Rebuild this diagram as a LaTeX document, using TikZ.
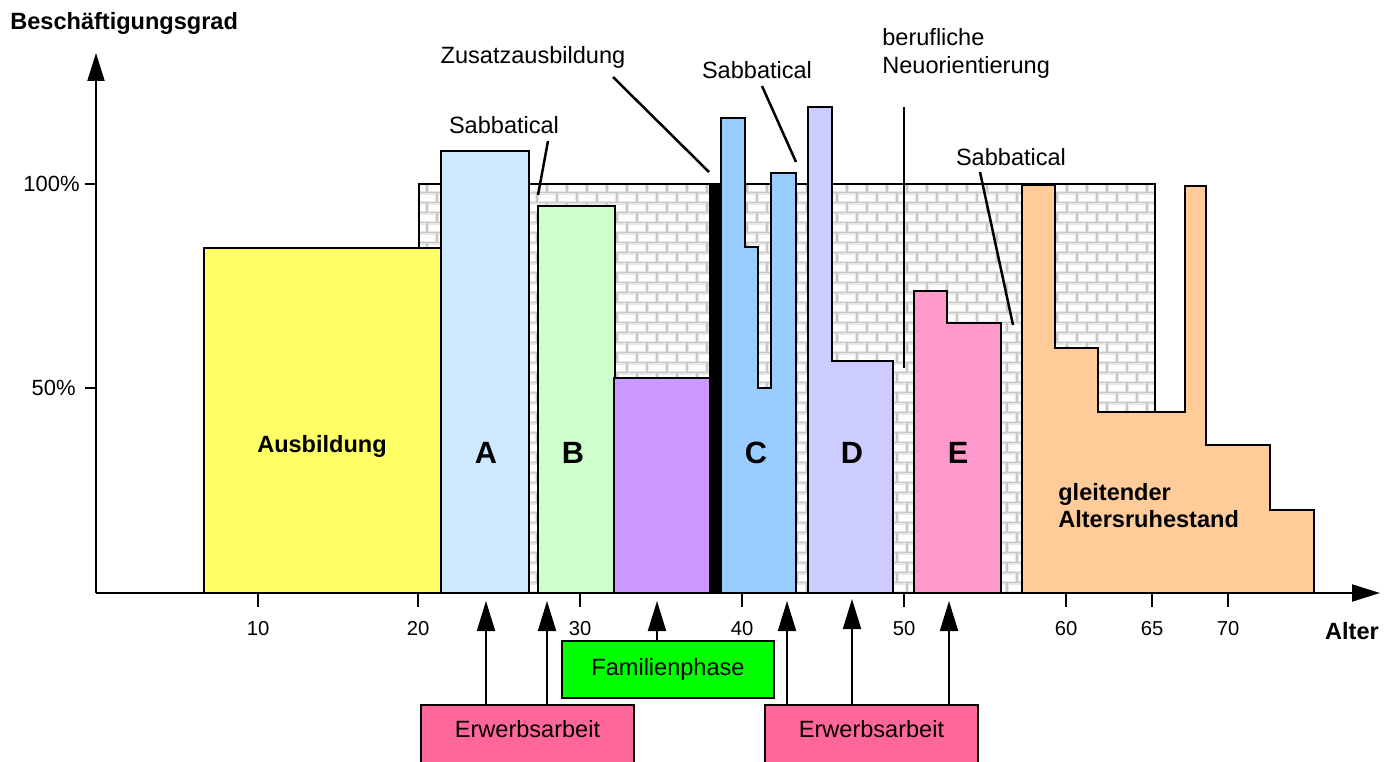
\documentclass[tikz,border=0pt]{standalone}
\usepackage{fontspec}
\setmainfont{Liberation Sans}
\usetikzlibrary{arrows.meta}
\definecolor{cYellow}{HTML}{FFFF66}
\definecolor{cA}{HTML}{CCE9FF}
\definecolor{cB}{HTML}{CCFFCC}
\definecolor{cPurple}{HTML}{CC99FF}
\definecolor{cC}{HTML}{99CCFF}
\definecolor{cD}{HTML}{CCCCFF}
\definecolor{cE}{HTML}{FF99CC}
\definecolor{cOrange}{HTML}{FFCC99}
\definecolor{cFam}{HTML}{00FF00}
\definecolor{cErw}{HTML}{FF6699}
\definecolor{mortar}{HTML}{C8C8C8}
\definecolor{brickedge}{HTML}{E8E8E8}
\begin{document}
\begin{tikzpicture}[x=0.02cm, y=-0.02cm,
  bar/.style={draw=black, line width=0.055cm, line join=miter},
  axisline/.style={line width=0.04cm, -{Triangle[length=0.56cm,width=0.34cm]}},
  tickline/.style={line width=0.04cm},
  callout/.style={line width=0.05cm},
  uparrow/.style={line width=0.04cm, -{Triangle[length=0.6cm,width=0.36cm]}},
  txt/.style={inner sep=0pt, font=\fontsize{13.4}{15.9}\selectfont},
  btxt/.style={inner sep=0pt, font=\bfseries\fontsize{13.4}{15.3}\selectfont},
  bigtxt/.style={inner sep=0pt, font=\bfseries\fontsize{17.5}{20}\selectfont},
  ticktxt/.style={inner sep=0pt, font=\fontsize{11.5}{13}\selectfont},
  pcttxt/.style={inner sep=0pt, font=\fontsize{12.5}{14}\selectfont},
  labelbox/.style={draw=black, line width=0.04cm, inner sep=0pt, minimum width=4.25cm, font=\fontsize{13.4}{15.9}\selectfont},
]
\useasboundingbox (0,0) rectangle (1396,761);
\fill[white] (0,0) rectangle (1396,761);

% brick wall background
\begin{scope}
\clip (419,184) rectangle (1155,593);
\fill[mortar] (419,184) rectangle (1155,593);
\foreach \r in {0,...,41} {
  \pgfmathsetmacro{\yy}{182.5+10*\r}
  \pgfmathsetmacro{\off}{mod(\r,2)*10}
  \foreach \c in {0,...,38} {
    \fill[brickedge] ({387+\off+20*\c+0.8},{\yy+0.8}) rectangle ++(18.4,8.4);
    \fill[white] ({387+\off+20*\c+2},{\yy+2}) rectangle ++(16,6);
  }
}
\end{scope}
\draw[bar] (419,593) -- (419,184) -- (1155,184) -- (1155,593);

% bars
\draw[bar, fill=cYellow] (204,593) rectangle (441,248);
\draw[bar, fill=cA] (441,593) rectangle (529,151);
\draw[bar, fill=cB] (538,593) rectangle (615,206);
\draw[bar, fill=cPurple] (614,593) rectangle (712,378);
\fill[black] (709,593) rectangle (721,184);
\draw[bar, fill=cC] (721,593) -- (721,118) -- (745,118) -- (745,247) -- (758,247) -- (758,388) -- (771,388) -- (771,173) -- (796,173) -- (796,593) -- cycle;
\draw[bar, fill=cD] (808,593) -- (808,107) -- (832,107) -- (832,361) -- (893,361) -- (893,593) -- cycle;
\draw[bar, fill=cE] (914,593) -- (914,291) -- (947,291) -- (947,323) -- (1001,323) -- (1001,593) -- cycle;
\draw[bar, fill=cOrange] (1022,593) -- (1022,185) -- (1055,185) -- (1055,348) -- (1098,348) -- (1098,412) -- (1185,412) -- (1185,186) -- (1206,186) -- (1206,445) -- (1270,445) -- (1270,510) -- (1314,510) -- (1314,593) -- cycle;

% bar labels
\node[btxt] (ausb) at (322,446) {Ausbildung};
\node[bigtxt] (lA) at (486,453) {A};
\node[bigtxt] (lB) at (573,453) {B};
\node[bigtxt] (lC) at (756,453) {C};
\node[bigtxt] (lD) at (852,453) {D};
\node[bigtxt] (lE) at (958,453) {E};
\node[btxt, align=left, anchor=north west] (glt) at (1058,483) {gleitender\\Altersruhestand};

% axes
\coordinate (O) at (96,593);
\coordinate (ytip) at (96,53);
\coordinate (xtip) at (1380,593);
\draw[axisline] (O) -- (ytip);
\draw[axisline] (O) -- (xtip);
\foreach \x/\l in {258/10,418/20,580/30,742/40,904/50,1066/60,1152/65,1228/70} {
  \draw[tickline] (\x,593) -- (\x,607);
  \node[ticktxt] (t\l) at (\x,629) {\l};
}
\draw[tickline] (85,184) -- (96,184);
\draw[tickline] (85,388) -- (96,388);
\node[pcttxt, anchor=east] (p100) at (80,184) {100\%};
\node[pcttxt, anchor=east] (p50) at (76,388) {50\%};
\node[btxt, anchor=base west] (ylab) at (10,29) {Beschäftigungsgrad};
\node[btxt] (alter) at (1352,631) {Alter};

% callouts
\node[txt] (sab1) at (504,125) {Sabbatical};
\coordinate (s1a) at (548,141); \coordinate (s1b) at (538,195);
\draw[callout] (s1a) -- (s1b);
\node[txt] (zus) at (533,57) {Zusatzausbildung};
\coordinate (z1a) at (613,77); \coordinate (z1b) at (709,172);
\draw[callout] (z1a) -- (z1b);
\node[txt] (sab2) at (757,70) {Sabbatical};
\coordinate (s2a) at (762,86); \coordinate (s2b) at (796,162);
\draw[callout] (s2a) -- (s2b);
\node[txt] (sab3) at (1011,157) {Sabbatical};
\coordinate (s3a) at (980,172); \coordinate (s3b) at (1013,325);
\draw[callout] (s3a) -- (s3b);
\node[txt, align=left, anchor=north west] (neu) at (882,28) {berufliche\\Neuorientierung};
\coordinate (n1a) at (904,107); \coordinate (n1b) at (904,368);
\draw[tickline] (n1a) -- (n1b);

% bottom boxes
\node[labelbox, fill=cFam, minimum width=4.24cm, minimum height=1.14cm] (fam) at (668,669.5) {Familienphase};
\node[labelbox, fill=cErw, minimum height=1.2cm, text height=0.3cm, text depth=0.2cm] (erw1) at (527.5,735) {Erwerbsarbeit};
\node[labelbox, fill=cErw, minimum height=1.2cm, text height=0.3cm, text depth=0.2cm] (erw2) at (871.5,735) {Erwerbsarbeit};

% arrows
\coordinate (a1) at (486,601);
\coordinate (a2) at (547,601);
\coordinate (a3) at (657,601);
\coordinate (a4) at (787,601);
\coordinate (a5) at (852,599);
\coordinate (a6) at (949,601);
\draw[uparrow] (erw1.north -| a1) -- (a1);
\draw[uparrow] (erw1.north -| a2) -- (a2);
\draw[uparrow] (fam.north -| a3) -- (a3);
\draw[uparrow] (erw2.north -| a4) -- (a4);
\draw[uparrow] (erw2.north -| a5) -- (a5);
\draw[uparrow] (erw2.north -| a6) -- (a6);
\end{tikzpicture}
\end{document}
